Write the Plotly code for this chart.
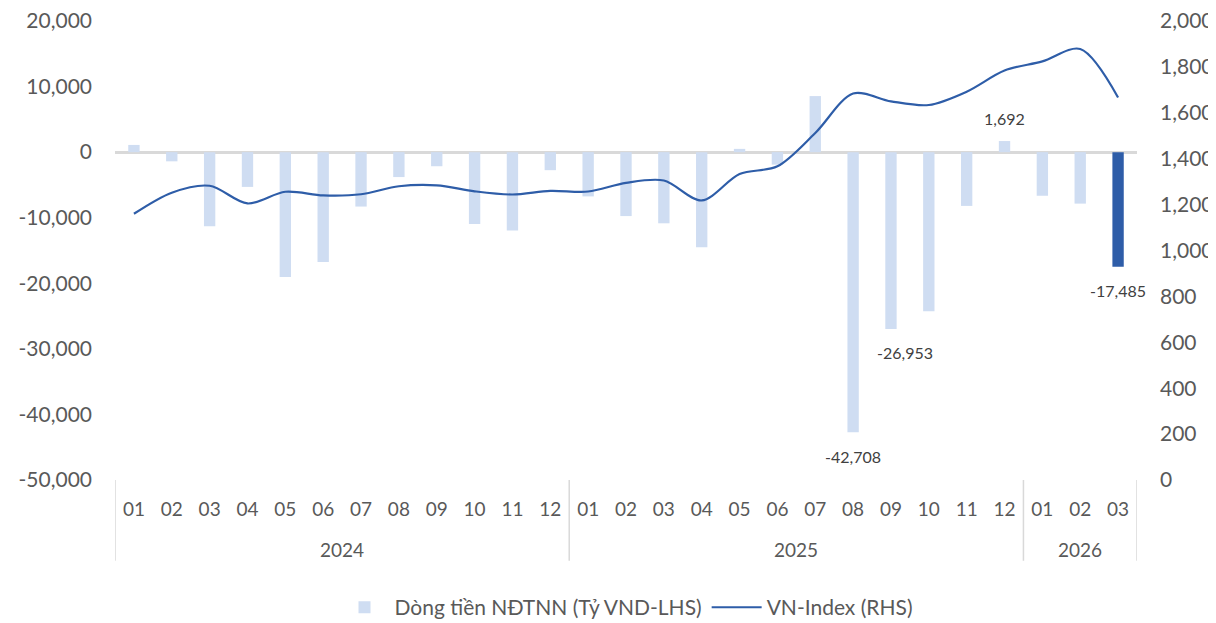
import plotly.graph_objects as go

years = ["2024"] * 12 + ["2025"] * 12 + ["2026"] * 3
months = [f"{m:02d}" for m in range(1, 13)] * 2 + ["01", "02", "03"]

flows = [1100, -1400, -11300, -5300, -19050, -16750, -8300, -3800, -2150, -10950, -11950, -2750,
         -6750, -9750, -10850, -14500, 500, -1900, 8550, -42708, -26953, -24250, -8200, 1692,
         -6650, -7850, -17485]
vnindex = [1160, 1252, 1282, 1205, 1256, 1240, 1245, 1280, 1284, 1258, 1244, 1260,
           1257, 1295, 1305, 1218, 1333, 1367, 1512, 1684, 1650, 1634, 1692, 1784,
           1824, 1878, 1667]
labelled = ["2025-08", "2025-09", "2025-12", "2026-03"]
highlight = "2026-03"

left_ticks = [-50000, -40000, -30000, -20000, -10000, 0, 10000, 20000]
right_ticks = list(range(0, 2001, 200))

keys = [f"{y}-{m}" for y, m in zip(years, months)]
bar_colors = ["#2E5DA8" if k == highlight else "#CFDDF2" for k in keys]

FONT = "Lato, 'Open Sans', sans-serif"
TXT = "#404040"
TICK = "#595959"

fig = go.Figure()
fig.add_trace(go.Bar(
    x=keys, y=flows, name="Dòng tiền NĐTNN (Tỷ VND-LHS)",
    marker=dict(color=bar_colors, line=dict(width=0)),
))
fig.add_trace(go.Scatter(
    x=keys, y=vnindex, name="VN-Index (RHS)", yaxis="y2",
    mode="lines", line=dict(color="#2E5DA8", width=2.2, shape="spline", smoothing=0.9),
))

# data labels
for k in labelled:
    v = flows[keys.index(k)]
    fig.add_annotation(
        x=k, y=v, xref="x", yref="y", text=f"{v:,}", showarrow=False,
        yshift=23 if v > 0 else -24, xshift=14 if k == "2025-09" else 0,
        font=dict(size=16, color=TXT, family=FONT),
    )

# year group labels and dividers
groups = []
for i, y in enumerate(years):
    if not groups or groups[-1][0] != y:
        groups.append([y, i, i])
    else:
        groups[-1][2] = i
div_y = -0.176
for y, i0, i1 in groups:
    fig.add_annotation(
        x=(i0 + i1) / 2, y=-0.151, xref="x", yref="paper", text=y, showarrow=False,
        yanchor="middle", font=dict(size=19, color=TICK, family=FONT),
    )
bounds = [groups[0][1] - 0.5] + [g[2] + 0.5 for g in groups]
for b in bounds:
    fig.add_shape(type="line", xref="x", yref="paper", x0=b, x1=b, y0=0, y1=div_y,
                  line=dict(color="#D9D9D9", width=1.5))

fig.update_layout(
    width=1208, height=615,
    margin=dict(l=107, r=79, t=13, b=143, autoexpand=False),
    paper_bgcolor="white", plot_bgcolor="white",
    font=dict(family=FONT, size=19, color=TICK),
    bargap=0.7,
    showlegend=True,
    legend=dict(orientation="h", x=0.5, xanchor="center", y=-0.278, yanchor="middle",
                font=dict(size=21, color=TICK), itemwidth=50, traceorder="normal"),
    xaxis=dict(type="category", showgrid=False, showline=False, ticks="",
               tickvals=keys, ticktext=months, tickfont=dict(size=19, color=TICK),
               ticklabelstandoff=16, range=[-0.5, len(keys) - 0.5]),
    yaxis=dict(range=[-50000, 20000], tickvals=left_ticks,
               ticktext=[f"{v:,}" for v in left_ticks], showgrid=False,
               zeroline=True, zerolinecolor="#D9D9D9", zerolinewidth=2.5,
               showline=False, ticks="", ticklabelstandoff=22, ticklabeloverflow="allow",
               tickfont=dict(size=21, color=TICK)),
    yaxis2=dict(range=[0, 2000], tickvals=right_ticks,
                ticktext=[f"{v:,}" for v in right_ticks], overlaying="y", side="right",
                showgrid=False, zeroline=False, showline=False, ticks="",
                ticklabelstandoff=22, ticklabeloverflow="allow",
                tickfont=dict(size=21, color=TICK)),
)

fig.write_html("out.html")
